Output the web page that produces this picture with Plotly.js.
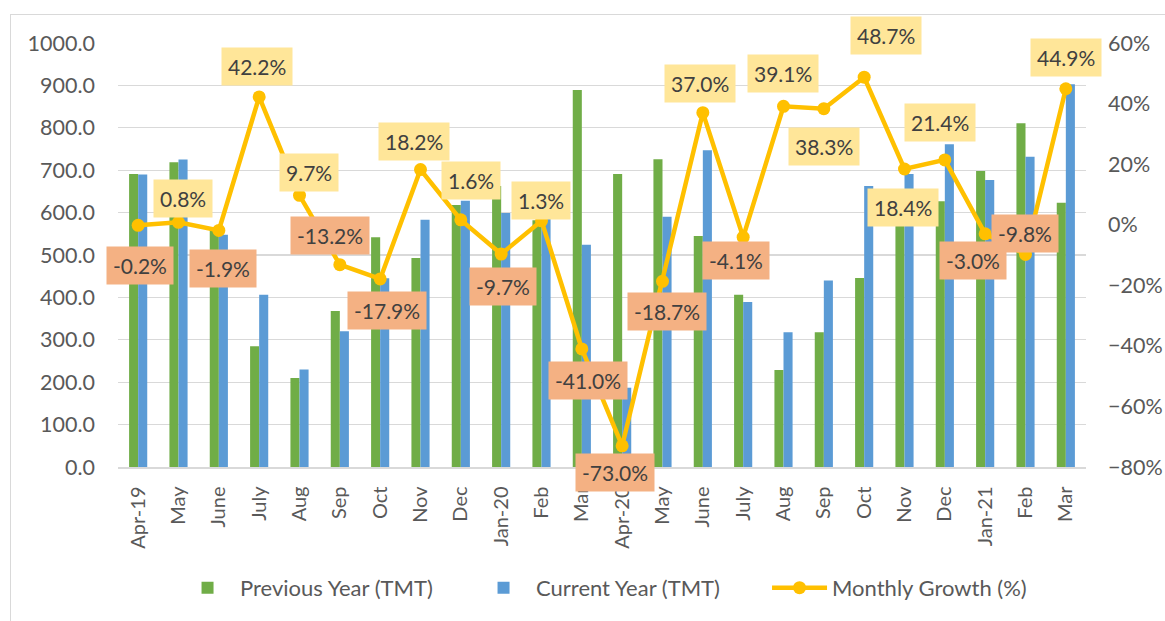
<!DOCTYPE html>
<html>
<head>
<meta charset="utf-8">
<script src="https://cdn.plot.ly/plotly-3.0.1.min.js"></script>
<style>
  html, body { margin: 0; padding: 0; background: #fff; overflow: hidden; }
  #frame { position: absolute; left: 10px; top: 14px; width: 1300px; height: 800px; border: 1.5px solid #d9d9d9; box-sizing: border-box; }
  #chart { position: absolute; left: 0; top: 0; width: 1165px; height: 621px; }
</style>
</head>
<body>
<div id="frame"></div>
<div id="chart"></div>
<script>
// ---- data ----
const months = ['Apr-19','May','June','July','Aug','Sep','Oct','Nov','Dec','Jan-20','Feb','Mar',
                'Apr-20','May','June','July','Aug','Sep','Oct','Nov','Dec','Jan-21','Feb','Mar'];
const previousYear = [691, 719, 559, 285, 210, 368, 542, 493, 618, 663, 582, 889,
                      691, 726, 545, 406, 229, 318, 446, 584, 627, 698, 811, 623];
const currentYear  = [690, 725, 548, 406, 230, 320, 445, 583, 628, 599, 590, 524,
                      187, 590, 747, 389, 318, 440, 663, 691, 761, 677, 732, 903];
const monthlyGrowth = [-0.2, 0.8, -1.9, 42.2, 9.7, -13.2, -17.9, 18.2, 1.6, -9.7, 1.3, -41.0,
                       -73.0, -18.7, 37.0, -4.1, 39.1, 38.3, 48.7, 18.4, 21.4, -3.0, -9.8, 44.9];

// ---- label placement (pixel offsets from each point) ----
const labelDx = [2, 4, 4, -2, 9, -10, 7, -7, 10, 2, -1, 6, -7, 4, -3, -7, -1, 0, 22, -2, -5, -12, -1, 0];
const labelDy = [-40, 24, -38, 30, 23, 29, -32, 28, 39, -32, 20, -32, -27, -30, 29, -23, 33, -38, 42, -39, 37, -27, 21, 31];

const xIdx = months.map((_, i) => i);
const growthFrac = monthlyGrowth.map(v => v / 100);

const FONT = 'Lato, "Open Sans", sans-serif';

const traces = [
  { type: 'bar', name: 'Previous Year (TMT)', x: xIdx, y: previousYear,
    marker: { color: '#70AD47' }, hoverinfo: 'skip' },
  { type: 'bar', name: 'Current Year (TMT)', x: xIdx, y: currentYear,
    marker: { color: '#5B9BD5' }, hoverinfo: 'skip' },
  { type: 'scatter', mode: 'lines+markers', name: 'Monthly Growth (%)', x: xIdx, y: growthFrac,
    yaxis: 'y2', line: { color: '#FFC000', width: 4.5 },
    marker: { color: '#FFC000', size: 13 }, hoverinfo: 'skip' }
];

const annotations = monthlyGrowth.map((v, i) => ({
  x: xIdx[i], y: growthFrac[i], xref: 'x', yref: 'y2',
  text: v.toFixed(1) + '%', showarrow: false,
  xshift: labelDx[i], yshift: labelDy[i],
  bgcolor: v >= 0 ? '#FFE699' : '#F4B183',
  borderpad: 6,
  font: { family: FONT, size: 21, color: '#404040' }
}));

const layout = {
  width: 1165, height: 621,
  margin: { l: 118, r: 79, t: 43, b: 154 },
  paper_bgcolor: 'rgba(0,0,0,0)', plot_bgcolor: 'rgba(0,0,0,0)',
  showlegend: true,
  barmode: 'group', bargap: 0.55, bargroupgap: 0,
  font: { family: FONT, size: 20, color: '#595959' },
  xaxis: {
    range: [-0.5, months.length - 0.5],
    tickmode: 'array', tickvals: xIdx, ticktext: months,
    tickangle: -90, showgrid: false, zeroline: false,
    showline: true, linecolor: '#d9d9d9', linewidth: 1.5,
    ticks: '', ticklabelstandoff: 10,
    tickfont: { family: FONT, size: 20, color: '#595959' }
  },
  yaxis: {
    range: [0, 1000], dtick: 100, tickformat: '.1f',
    showgrid: true, gridcolor: '#d9d9d9', gridwidth: 1.2,
    zeroline: false, showline: false, ticks: '', ticklabelstandoff: 22,
    tickfont: { family: FONT, size: 21.5, color: '#595959' }
  },
  yaxis2: {
    overlaying: 'y', side: 'right',
    range: [-0.8, 0.6], dtick: 0.2, tickformat: '.0%',
    showgrid: false, zeroline: false, showline: false, ticks: '', ticklabelstandoff: 21,
    tickfont: { family: FONT, size: 21.5, color: '#595959' }
  },
  legend: {
    orientation: 'h', x: 0.5176, xanchor: 'center', y: -0.285, yanchor: 'middle',
    font: { family: FONT, size: 22, color: '#595959' },
    itemwidth: 55, traceorder: 'normal', entrywidth: 226
  },
  annotations: annotations
};

Plotly.newPlot('chart', traces, layout, { displayModeBar: false, staticPlot: true });
</script>
</body>
</html>
